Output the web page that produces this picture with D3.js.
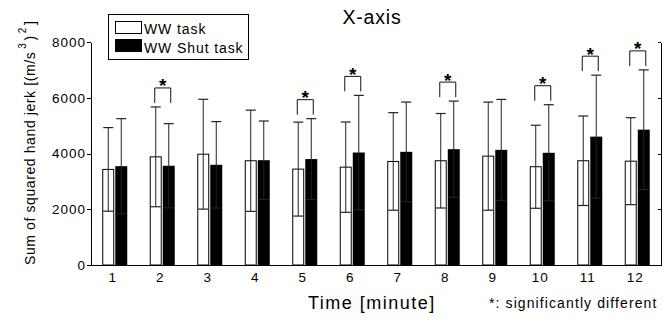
<!DOCTYPE html>
<html><head><meta charset="utf-8">
<script src="https://cdn.jsdelivr.net/npm/d3@7"></script>
<style>
body{margin:0;background:#fff;}
svg{display:block;font-family:"Liberation Sans",Arial,Helvetica,sans-serif;}
</style></head><body>
<svg id="chart" width="671" height="323"></svg>
<script>
const categories = ["1","2","3","4","5","6","7","8","9","10","11","12"];
const wwTaskMean = [3430,3880,3975,3740,3440,3510,3715,3740,3905,3525,3740,3725];
const wwTaskSD   = [1500,1790,1970,1815,1685,1620,1750,1695,1940,1490,1605,1560];
const wwShutMean = [3545,3560,3595,3760,3800,4035,4060,4155,4130,4025,4605,4855];
const wwShutSD   = [1705,1510,1550,1405,1450,2050,1785,1725,1810,1725,2205,2145];
const significant = [false,true,false,false,true,true,false,true,false,true,true,true];
const yTicks = [0,2000,4000,6000,8000];
const seriesNames = ["WW task","WW Shut task"];

const svg = d3.select("#chart");
const x = d3.scaleBand().domain(categories).range([91, 661]);
const sub = d3.scaleBand().domain(seriesNames).range([-12.5, 12.5]).paddingInner(0.08);
const y = d3.scaleLinear().domain([0, 8000]).range([265, 42]);
const bw = sub.bandwidth();
const center = c => x(c) + x.bandwidth() / 2;

const rows = categories.map((c, i) => ({
  c, i,
  series: [
    {name: seriesNames[0], mean: wwTaskMean[i], sd: wwTaskSD[i]},
    {name: seriesNames[1], mean: wwShutMean[i], sd: wwShutSD[i]}
  ]
}));

// bars
const g = svg.append("g");
rows.forEach(r => {
  const c0 = center(r.c);
  const w = r.series[0], b = r.series[1];
  g.append("rect")
    .attr("x", c0 + sub(w.name) + 0.5).attr("y", y(w.mean))
    .attr("width", bw - 1).attr("height", y(0) - y(w.mean))
    .attr("fill", "#fff").attr("stroke", "#000").attr("stroke-width", 1);
  g.append("rect")
    .attr("x", c0 + sub(b.name)).attr("y", y(b.mean))
    .attr("width", bw).attr("height", y(0) - y(b.mean))
    .attr("fill", "#000");
});

// error bars
rows.forEach(r => {
  const c0 = center(r.c);
  r.series.forEach(s => {
    const cx = c0 + sub(s.name) + bw / 2;
    const yt = y(s.mean + s.sd), yb = y(s.mean - s.sd);
    g.append("line").attr("x1", cx).attr("x2", cx).attr("y1", yt).attr("y2", yb)
      .attr("stroke", "#222").attr("stroke-width", 1);
    [yt, yb].forEach(yy => g.append("line")
      .attr("x1", cx - 5).attr("x2", cx + 5).attr("y1", yy).attr("y2", yy)
      .attr("stroke", "#222").attr("stroke-width", 1.2));
  });
});

// significance brackets
rows.filter(r => significant[r.i]).forEach(r => {
  const c0 = center(r.c);
  const topPx = Math.min(...r.series.map(s => y(s.mean + s.sd)));
  const legBottom = topPx - 4;
  const bTop = legBottom - 15;
  g.append("path")
    .attr("d", `M${c0 - 7.5},${legBottom}V${bTop}H${c0 + 8.5}V${legBottom}`)
    .attr("fill", "none").attr("stroke", "#111").attr("stroke-width", 1);
  g.append("text").attr("x", c0 + 0.5).attr("y", bTop + 4.5)
    .attr("text-anchor", "middle").attr("font-size", 19).attr("font-weight", "bold")
    .text("*");
});

// axes
const yAxis = svg.append("g").attr("transform", "translate(91,0)")
  .call(d3.axisLeft(y).tickValues(yTicks).tickFormat(d3.format("d")).tickSize(4).tickSizeOuter(0).tickPadding(1));
yAxis.attr("font-family", null).attr("font-size", null);
yAxis.selectAll("text").attr("font-size", 13.5).attr("letter-spacing", 1).attr("fill", "#000");

const yAxisR = svg.append("g").attr("transform", "translate(661,0)")
  .call(d3.axisLeft(y).tickValues(yTicks).tickFormat("").tickSize(3).tickSizeOuter(0));

const xAxis = svg.append("g").attr("transform", "translate(0,265)")
  .call(d3.axisBottom(x).tickSize(0).tickPadding(7.4));
xAxis.attr("font-family", null).attr("font-size", null);
xAxis.selectAll("text").attr("font-size", 13.5).attr("letter-spacing", 1).attr("dx", -2).attr("fill", "#000");

svg.selectAll(".domain, .tick line").attr("stroke", "#000").attr("shape-rendering", "crispEdges");

// legend
const lg = svg.append("g");
lg.append("rect").attr("x", 108.5).attr("y", 14.5).attr("width", 140).attr("height", 45)
  .attr("fill", "#fff").attr("stroke", "#000");
lg.append("rect").attr("x", 115.5).attr("y", 21.5).attr("width", 26).attr("height", 12)
  .attr("fill", "#fff").attr("stroke", "#000");
lg.append("rect").attr("x", 115).attr("y", 39).attr("width", 27).attr("height", 13)
  .attr("fill", "#000");
lg.append("text").attr("x", 144).attr("y", 34).attr("font-size", 14).attr("letter-spacing", 0.9).text(seriesNames[0]);
lg.append("text").attr("x", 144).attr("y", 52.5).attr("font-size", 14).attr("letter-spacing", 0.9).text(seriesNames[1]);

// title
svg.append("text").attr("x", 372).attr("y", 24).attr("text-anchor", "middle")
  .attr("font-size", 19.5).attr("letter-spacing", 0.8).text("X-axis");

// x label
svg.append("text").attr("x", 308).attr("y", 309)
  .attr("font-size", 18).attr("letter-spacing", 1.5).text("Time [minute]");

// note
svg.append("text").attr("x", 489).attr("y", 307.5)
  .attr("font-size", 14).attr("letter-spacing", 1.1).text("*: significantly different");

// y label
const yl = svg.append("text").attr("transform", "translate(35,265) rotate(-90)")
  .attr("font-size", 14).attr("letter-spacing", 0.6);
yl.append("tspan").text("Sum of squared hand jerk [(m/s");
yl.append("tspan").attr("dx", 3).attr("dy", -9).attr("font-size", 10).text("3");
yl.append("tspan").attr("dx", 2).attr("dy", 9).text(")");
yl.append("tspan").attr("dx", 2).attr("dy", -9).attr("font-size", 10).text("2");
yl.append("tspan").attr("dx", 2).attr("dy", 9).text("]");
</script>
</body></html>
